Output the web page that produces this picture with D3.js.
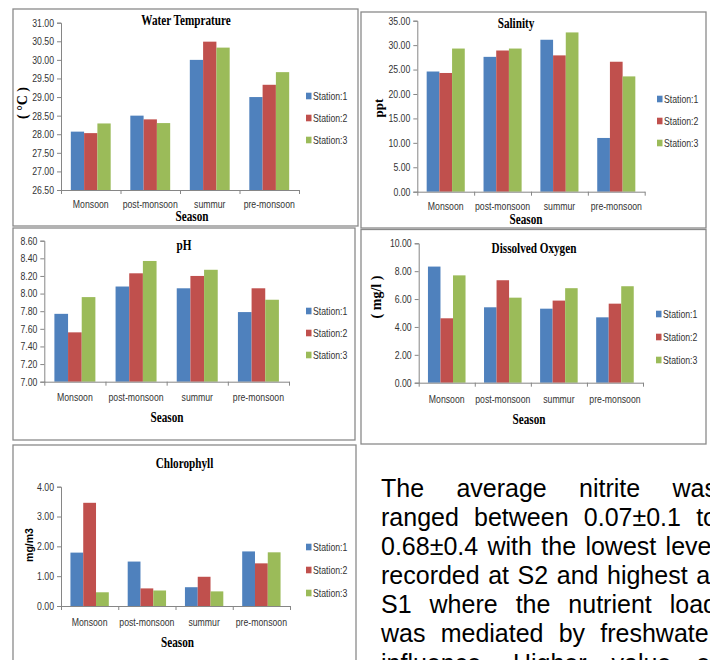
<!DOCTYPE html>
<html>
<head>
<meta charset="utf-8">
<script src="https://cdn.jsdelivr.net/npm/d3@7"></script>
<style>
  body { margin: 0; background: #fff; width: 710px; height: 660px; overflow: hidden; position: relative; }
  svg { position: absolute; left: 0; top: 0; }
  .para { position: absolute; left: 381px; top: 474px; width: 336px;
          font-family: "Liberation Sans", Arial, sans-serif; font-size: 25px; line-height: 29.1px; color: #000; }
  .para div { text-align: justify; text-align-last: justify; }
</style>
</head>
<body>
<svg id="chart" width="710" height="660"></svg>
<div class="para" id="para"></div>
<script>
const seasons = ["Monsoon", "post-monsoon", "summur", "pre-monsoon"];
const stations = ["Station:1", "Station:2", "Station:3"];
const colors = ["#4F81BD", "#C0504D", "#9BBB59"];

// values per season, [station1, station2, station3]
const waterTemp = [[28.07, 28.03, 28.29], [28.50, 28.40, 28.30], [30.00, 30.49, 30.33], [29.00, 29.33, 29.67]];
const salinity = [[24.6, 24.3, 29.3], [27.6, 28.9, 29.3], [31.1, 27.9, 32.6], [11.0, 26.6, 23.6]];
const ph = [[7.77, 7.56, 7.96], [8.08, 8.23, 8.37], [8.06, 8.20, 8.27], [7.79, 8.06, 7.93]];
const dissolvedOxygen = [[8.33, 4.62, 7.70], [5.41, 7.35, 6.10], [5.31, 5.89, 6.78], [4.69, 5.67, 6.92]];
const chlorophyll = [[1.79, 3.46, 0.46], [1.49, 0.59, 0.52], [0.63, 0.98, 0.49], [1.83, 1.43, 1.80]];

const tempTicks = [26.5, 27, 27.5, 28, 28.5, 29, 29.5, 30, 30.5, 31];
const salinityTicks = [0, 5, 10, 15, 20, 25, 30, 35];
const phTicks = [7.0, 7.2, 7.4, 7.6, 7.8, 8.0, 8.2, 8.4, 8.6];
const doTicks = [0, 2, 4, 6, 8, 10];
const chlTicks = [0, 1, 2, 3, 4];

const paraLines = [
  "The average nitrite was",
  "ranged between 0.07\u00b10.1 to",
  "0.68\u00b10.4 with the lowest level",
  "recorded at S2 and highest at",
  "S1 where the nutrient load",
  "was mediated by freshwater",
  "influence. Higher value of"
];

const SX = 0.8;      // the figure is squeezed horizontally
const SX_SANS = 0.83;
const serif = "'Liberation Serif', 'Times New Roman', serif";
const sans = "'Liberation Sans', Arial, sans-serif";

const panels = [
  { title: "Water Temprature", values: waterTemp, ticks: tempTicks, domain: [26.5, 31],
    frame: [13, 9, 358, 226], left: 61, right: 299, top: 22.7, bottom: 190,
    titleX: 186, titleY: 25, seasonX: 192, seasonY: 221, catY: 208,
    yLabel: "( \u00b0C )", yLabelX: 27, yLabelY: 103, yLabelFont: serif, yLabelSize: 14,
    legX: 306, legY: [96, 118, 140] },
  { title: "Salinity", values: salinity, ticks: salinityTicks, domain: [0, 35],
    frame: [361, 12, 706, 228], left: 417.3, right: 644.7, top: 20.7, bottom: 191.7,
    titleX: 516, titleY: 28, seasonX: 526, seasonY: 223.5, catY: 210.5,
    yLabel: "ppt", yLabelX: 383, yLabelY: 108, yLabelFont: serif, yLabelSize: 13,
    legX: 657, legY: [99, 121, 143] },
  { title: "pH", values: ph, ticks: phTicks, domain: [7, 8.6],
    frame: [13, 228, 355, 440], left: 44.3, right: 289, top: 240.7, bottom: 381.7,
    titleX: 184, titleY: 250, seasonX: 167, seasonY: 422, catY: 401,
    yLabel: null,
    legX: 306, legY: [311, 333, 355] },
  { title: "Dissolved Oxygen", values: dissolvedOxygen, ticks: doTicks, domain: [0, 10],
    frame: [361, 229.5, 706, 444], left: 418.7, right: 643, top: 243.3, bottom: 382.7,
    titleX: 534, titleY: 253, seasonX: 529, seasonY: 424, catY: 403,
    yLabel: "( mg/l )", yLabelX: 381, yLabelY: 297, yLabelFont: serif, yLabelSize: 14,
    legX: 656, legY: [314, 337, 360] },
  { title: "Chlorophyll", values: chlorophyll, ticks: chlTicks, domain: [0, 4],
    frame: [13, 445, 356, 700], left: 61, right: 290, top: 486.7, bottom: 606,
    titleX: 184.5, titleY: 468, seasonX: 177.5, seasonY: 647, catY: 626,
    yLabel: "mg/m3", yLabelX: 33, yLabelY: 545, yLabelFont: sans, yLabelSize: 10.5,
    legX: 306, legY: [547, 570, 593] }
];

const svg = d3.select("#chart");

function squeezedText(g, x, y, str, font, size, weight, sx) {
  return g.append("text")
    .attr("transform", `translate(${x},${y}) scale(${sx},1)`)
    .attr("text-anchor", "middle")
    .attr("font-family", font)
    .attr("font-size", size)
    .attr("font-weight", weight)
    .attr("fill", "#000")
    .text(str);
}

function drawPanel(p) {
  const g = svg.append("g");
  const [fx0, fy0, fx1, fy1] = p.frame;

  g.append("rect")
    .attr("x", fx0).attr("y", fy0)
    .attr("width", fx1 - fx0).attr("height", fy1 - fy0)
    .attr("fill", "#fff")
    .attr("stroke", "#8a8a8a")
    .attr("stroke-width", 1.3);

  const x0 = d3.scaleBand().domain(seasons).range([p.left, p.right]);
  const bw = x0.bandwidth();
  const x1 = d3.scaleBand().domain(stations).range([bw * 0.165, bw * 0.835]);
  const y = d3.scaleLinear().domain(p.domain).range([p.bottom, p.top]);

  g.append("g")
    .selectAll("g")
    .data(p.values)
    .join("g")
    .attr("transform", (d, i) => `translate(${x0(seasons[i])},0)`)
    .selectAll("rect")
    .data(d => d)
    .join("rect")
    .attr("x", (d, j) => x1(stations[j]))
    .attr("width", x1.bandwidth())
    .attr("y", d => y(d))
    .attr("height", d => p.bottom - y(d))
    .attr("fill", (d, j) => colors[j]);

  // y axis
  const ya = g.append("g")
    .attr("transform", `translate(${p.left},0)`)
    .call(d3.axisLeft(y).tickValues(p.ticks).tickFormat(d3.format(".2f")).tickSize(4).tickPadding(3));
  ya.selectAll("path, line").attr("stroke", "#868686");
  ya.selectAll("text")
    .attr("x", -7 / SX_SANS)
    .attr("transform", `scale(${SX_SANS},1)`)
    .attr("font-family", sans)
    .attr("font-size", 10.5)
    .attr("fill", "#333");

  // x axis: labels centred on bands, tick marks between categories
  const xa = g.append("g")
    .attr("transform", `translate(0,${p.bottom})`)
    .call(d3.axisBottom(x0).tickSize(0));
  xa.select(".domain").attr("stroke", "#868686");
  xa.selectAll("text")
    .attr("y", p.catY - p.bottom)
    .attr("dy", null)
    .attr("transform", `scale(${SX_SANS},1)`)
    .attr("x", 0)
    .attr("font-family", sans)
    .attr("font-size", 10.5)
    .attr("fill", "#333");
  xa.selectAll(".tick").attr("transform", d => `translate(${(x0(d) + bw / 2)},0)`);

  const edges = d3.scaleLinear().domain([0, seasons.length]).range([p.left, p.right]);
  const xt = g.append("g")
    .attr("transform", `translate(0,${p.bottom})`)
    .call(d3.axisBottom(edges).ticks(seasons.length).tickFormat("").tickSize(4));
  xt.select(".domain").remove();
  xt.selectAll("line").attr("stroke", "#868686");

  squeezedText(g, p.titleX, p.titleY, p.title, serif, 14, "bold", SX);
  squeezedText(g, p.seasonX, p.seasonY, "Season", serif, 14, "bold", SX);

  if (p.yLabel) {
    g.append("text")
      .attr("transform", `translate(${p.yLabelX},${p.yLabelY}) rotate(-90)`)
      .attr("text-anchor", "middle")
      .attr("font-family", p.yLabelFont)
      .attr("font-size", p.yLabelSize)
      .attr("font-weight", "bold")
      .text(p.yLabel);
  }

  const leg = g.append("g")
    .selectAll("g")
    .data(stations)
    .join("g")
    .attr("transform", (d, i) => `translate(${p.legX},${p.legY[i]})`);
  leg.append("rect")
    .attr("x", 0).attr("y", -3.3)
    .attr("width", 5.5).attr("height", 6.6)
    .attr("fill", (d, i) => colors[i]);
  leg.append("text")
    .attr("transform", `translate(7,0) scale(${SX_SANS},1)`)
    .attr("dy", "0.35em")
    .attr("font-family", sans)
    .attr("font-size", 10.5)
    .attr("fill", "#333")
    .text(d => d);
}

panels.forEach(drawPanel);

d3.select("#para")
  .selectAll("div")
  .data(paraLines)
  .join("div")
  .text(d => d);
</script>
</body>
</html>
